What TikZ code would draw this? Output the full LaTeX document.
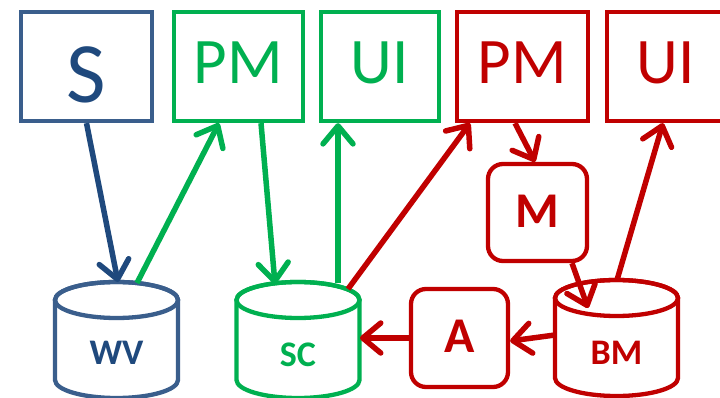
\documentclass[tikz,border=0pt]{standalone}
\usepackage{fontspec}
\setmainfont{Carlito}
\usetikzlibrary{arrows.meta,calc}
\definecolor{sblue}{HTML}{3A5E8C}
\definecolor{dblue}{HTML}{1F497D}
\definecolor{cgreen}{HTML}{00B050}
\definecolor{cred}{HTML}{C00000}
% #1 centre x, #2 top centre y, #3 x radius, #4 bottom centre y, #5 colour
\newcommand\drawcyl[5]{%
  \path[draw=#5, line width=4.3pt, fill=white]
    (#1-#3,#2) -- (#1-#3,#4)
    arc[start angle=180, end angle=360, x radius=#3pt, y radius=18pt]
    -- (#1+#3,#2)
    arc[start angle=0, end angle=180, x radius=#3pt, y radius=18pt] -- cycle;
  \draw[#5, line width=4.3pt] (#1,#2) ellipse[x radius=#3pt, y radius=18pt];
}
\begin{document}
\begin{tikzpicture}[x=1pt,y=-1pt,
  box/.style={draw, line width=4.3pt, fill=white, minimum width=#1, minimum height=109pt, inner sep=0pt},
  rbox/.style={draw, line width=4.3pt, fill=white, rounded corners=15pt, minimum width=98pt, minimum height=98pt, inner sep=0pt},
  conn/.style={line width=5.5pt, -{Straight Barb[length=18pt,width=30pt,round]}},
  big/.style={font=\fontsize{86}{86}\selectfont, inner sep=0pt},
  top/.style={font=\fontsize{65}{65}\selectfont, inner sep=0pt},
  mid/.style={font=\bfseries\fontsize{50}{50}\selectfont, inner sep=0pt},
  small/.style={font=\bfseries\fontsize{36}{36}\selectfont, inner sep=0pt}
]
\useasboundingbox[fill=white] (0,0) rectangle (720,398);

% top boxes
\node[box=131pt, draw=sblue] (S) at (86.5,66.5) {};
\node[box=129pt, draw=cgreen] (PMg) at (238.5,66.5) {};
\node[box=118pt, draw=cgreen] (UIg) at (380,66.5) {};
\node[box=131pt, draw=cred] (PMr) at (522.5,66.5) {};
\node[box=118pt, draw=cred] (UIr) at (666,66.5) {};
\node[big, text=dblue] (St) at (86.5,74.5) {S};
\node[top, text=cgreen] (PMgt) at (238.5,62.5) {PM};
\node[top, text=cgreen] (UIgt) at (380,62.5) {UI};
\node[top, text=cred] (PMrt) at (522.5,62.5) {PM};
\node[top, text=cred] (UIrt) at (666,62.5) {UI};

% rounded boxes
\node[rbox, draw=cred, minimum width=99pt, minimum height=97pt] (M) at (537.5,212.5) {};
\node[mid, text=cred] (Mt) at (537.5,211) {M};
\node[rbox, draw=cred, minimum width=97pt, minimum height=98pt] (A) at (459.5,338) {};
\node[mid, text=cred] (At) at (459.5,336) {A};

% cylinders
\drawcyl{116.5}{300}{61.5}{380}{sblue}
\drawcyl{298}{300}{61.5}{380}{cgreen}
\drawcyl{616.5}{298}{61.5}{378}{cred}
\node[small, text=dblue] (WV) at (116.5,353) {WV};
\node[small, text=cgreen] (SC) at (298,355) {SC};
\node[small, text=cred] (BM) at (616.5,353) {BM};

% connector end points on cylinders
\coordinate (wvin) at (118,282);
\coordinate (wvout) at (137,283);
\coordinate (scin) at (275,284);
\coordinate (scup) at (338,283);
\coordinate (scred) at (348,289);
\coordinate (scside) at (360,338);
\coordinate (bmin) at (588,308);
\coordinate (bmup) at (617,280);
\coordinate (bmside) at (555,335);

% connectors
\draw[conn, dblue] (S.south) -- (wvin);
\draw[conn, cgreen] (wvout) -- ([xshift=-19.5pt]PMg.south);
\draw[conn, cgreen] ([xshift=22.5pt]PMg.south) -- (scin);
\draw[conn, cgreen] (scup) -- ([xshift=-42pt]UIg.south);
\draw[conn, cred] (scred) -- ([xshift=-52.5pt]PMr.south);
\draw[conn, cred] ([xshift=-7.5pt]PMr.south) -- ([xshift=-2.5pt]M.north);
\draw[conn, cred] ([xshift=34.5pt]M.south) -- (bmin);
\draw[conn, cred] (bmup) -- ([xshift=-3pt]UIr.south);
\draw[conn, cred] (bmside) -- ([yshift=-3pt]A.east);
\draw[conn, cred] (A.west) -- (scside);
\end{tikzpicture}
\end{document}
